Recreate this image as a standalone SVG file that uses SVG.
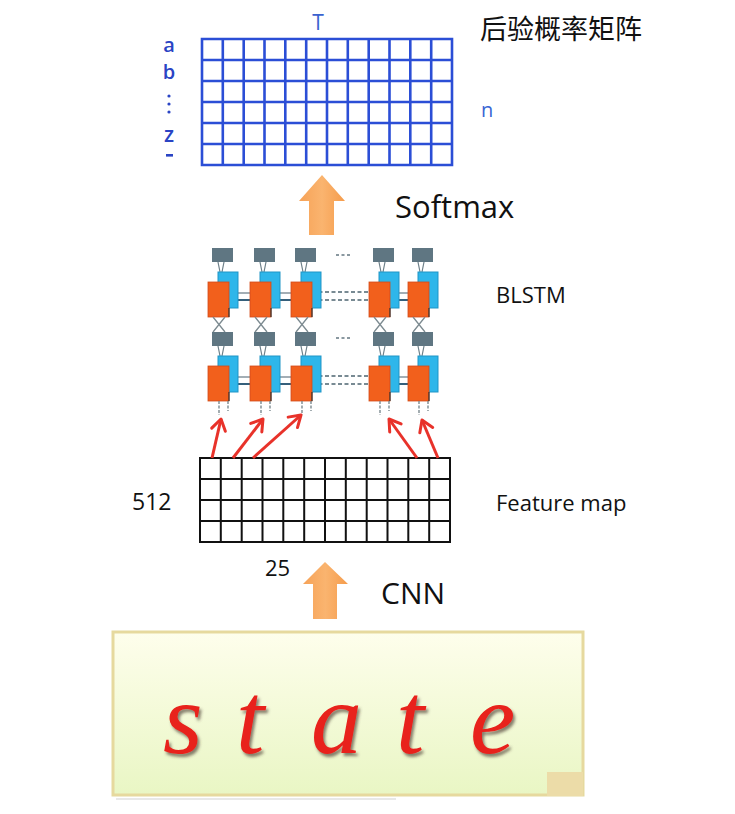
<svg xmlns="http://www.w3.org/2000/svg" width="735" height="814" viewBox="0 0 735 814">
  <style>
    .lbl { font-family: "Open Sans", "Liberation Sans", sans-serif; fill: #111; }
    .blue { font-family: "Open Sans", "Liberation Sans", sans-serif; fill: #2a44c4; }
    .row { font-weight: 600; }
    .cjk { font-family: "Noto Sans CJK SC", "Noto Sans", sans-serif; fill: #111; }
    .gridB { fill: #fff; stroke: #2b4ed6; stroke-width: 2.6; }
    .gridK { fill: #fff; stroke: #111; stroke-width: 2; }
    .link { stroke: #e8322a; stroke-width: 3; fill: none; marker-end: url(#vhead); }
    .state { font-family: "Liberation Serif", "DejaVu Serif", serif; font-style: italic; fill: #e8201a; }
  </style>
  <defs>
    <marker id="vhead" markerUnits="userSpaceOnUse" viewBox="-14 -9 16 18" refX="0" refY="0" markerWidth="16" markerHeight="18" orient="auto">
      <path d="M-11,-7 L0,0 L-11,7" fill="none" stroke="#e8322a" stroke-width="3" stroke-linecap="round" stroke-linejoin="round"/>
    </marker>
    <linearGradient id="upArrow" x1="0" y1="0" x2="1" y2="0">
      <stop offset="0" stop-color="#f6a257"/>
      <stop offset="0.5" stop-color="#fab46f"/>
      <stop offset="1" stop-color="#f59c4c"/>
    </linearGradient>
    <linearGradient id="boxFill" x1="0" y1="0" x2="0" y2="1">
      <stop offset="0" stop-color="#fefeec"/>
      <stop offset="1" stop-color="#e9f6c4"/>
    </linearGradient>
    <filter id="soft" x="-5%" y="-5%" width="110%" height="110%">
      <feGaussianBlur stdDeviation="0.6"/>
    </filter>
    <filter id="letterShadow" x="-20%" y="-20%" width="140%" height="140%">
      <feDropShadow dx="2" dy="3" stdDeviation="1.6" flood-color="#4a3a30" flood-opacity="0.65"/>
    </filter>
    <!-- one BLSTM cell: output unit, backward (blue) and forward (orange) blocks -->
    <g id="cell">
      <rect x="0" y="0" width="21" height="14" fill="#5f7682"/>
      <path d="M6,14 L8,24 M12,14 L10,24" stroke="#6d7f88" stroke-width="1.2" fill="none"/>
      <rect x="6" y="24" width="20" height="36" fill="#2db6ea" stroke="#1f95c6" stroke-width="1"/>
      <rect x="-4" y="34" width="21" height="35" fill="#f2601f" stroke="#d24c14" stroke-width="0.8"/>
      <path d="M17,60 L17,69" stroke="#333" stroke-width="1.2"/>
    </g>
    <!-- links between two layers of cells -->
    <g id="cross">
      <path d="M1,69 L13,84 M13,69 L1,84" stroke="#7c8a90" stroke-width="1.3" fill="none"/>
    </g>
    <g id="stub">
      <path d="M7,69 L7,83 M16,69 L16,79" stroke="#7c8a90" stroke-width="1.4" stroke-dasharray="3 1.5" fill="none"/>
    </g>
    <!-- recurrent links to the neighbouring column -->
    <g id="hlink">
      <path d="M26,45 L38,45" stroke="#7b8c95" stroke-width="1.4"/>
      <path d="M17,52 L38,52" stroke="#1f4f6c" stroke-width="1.8"/>
    </g>
  </defs>

  <rect width="735" height="814" fill="#fff"/>

  <!-- posterior probability matrix -->
  <g id="matrix">
    <path class="gridB" d="M202,39 H452 V165 H202 Z M222.8,39 V165 M243.7,39 V165 M264.5,39 V165 M285.3,39 V165 M306.2,39 V165 M327,39 V165 M347.8,39 V165 M368.7,39 V165 M389.5,39 V165 M410.3,39 V165 M431.2,39 V165 M202,60 H452 M202,81 H452 M202,102 H452 M202,123 H452 M202,144 H452"/>
    <text class="blue" x="318" y="30" font-size="21" text-anchor="middle" style="fill:#3a62cf">T</text>
    <text class="blue row" x="169" y="52" font-size="20" text-anchor="middle">a</text>
    <text class="blue row" x="169" y="79" font-size="20" text-anchor="middle">b</text>
    <g fill="#2a44c4">
      <circle cx="169" cy="96" r="1.6"/>
      <circle cx="169" cy="104" r="1.6"/>
      <circle cx="169" cy="112" r="1.6"/>
    </g>
    <text class="blue row" x="169" y="142" font-size="21" text-anchor="middle">z</text>
    <rect x="166" y="154" width="7" height="2.6" fill="#2a44c4"/>
    <text class="blue" x="481" y="117" font-size="20" style="fill:#3a66d4">n</text>
    <text class="cjk" x="480" y="39" font-size="27">后验概率矩阵</text>
  </g>

  <!-- Softmax step -->
  <g id="softmax">
    <path d="M322,175 L345,201 L334,201 L334,235 L309,235 L309,201 L299,201 Z" fill="url(#upArrow)"/>
    <text class="lbl" x="395" y="218" font-size="31">Softmax</text>
  </g>

  <!-- bidirectional LSTM layers -->
  <g id="blstm">
    <g id="blstm-top" filter="url(#soft)">
      <use href="#hlink" x="212" y="248"/>
      <use href="#hlink" x="254" y="248"/>
      <use href="#hlink" x="373" y="248"/>
      <path d="M312,292 H369 M312,300 H369" stroke="#4d6370" stroke-width="1.6" stroke-dasharray="4 2.5"/>
      <path d="M336,255 H352" stroke="#8a98a0" stroke-width="2" stroke-dasharray="3 2.5"/>
      <use href="#cell" x="212" y="248"/>
      <use href="#cell" x="254" y="248"/>
      <use href="#cell" x="295" y="248"/>
      <use href="#cell" x="373" y="248"/>
      <use href="#cell" x="412" y="248"/>
      <use href="#cross" x="212" y="248"/>
      <use href="#cross" x="254" y="248"/>
      <use href="#cross" x="295" y="248"/>
      <use href="#cross" x="373" y="248"/>
      <use href="#cross" x="412" y="248"/>
    </g>
    <g id="blstm-bottom" filter="url(#soft)">
      <use href="#hlink" x="212" y="332"/>
      <use href="#hlink" x="254" y="332"/>
      <use href="#hlink" x="373" y="332"/>
      <path d="M312,376 H369 M312,384 H369" stroke="#4d6370" stroke-width="1.6" stroke-dasharray="4 2.5"/>
      <path d="M336,338 H352" stroke="#8a98a0" stroke-width="2" stroke-dasharray="3 2.5"/>
      <use href="#cell" x="212" y="332"/>
      <use href="#cell" x="254" y="332"/>
      <use href="#cell" x="295" y="332"/>
      <use href="#cell" x="373" y="332"/>
      <use href="#cell" x="412" y="332"/>
      <use href="#stub" x="212" y="332"/>
      <use href="#stub" x="254" y="332"/>
      <use href="#stub" x="295" y="332"/>
      <use href="#stub" x="373" y="332"/>
      <use href="#stub" x="412" y="332"/>
    </g>
    <text class="lbl" x="496" y="303" font-size="22">BLSTM</text>
  </g>

  <!-- feature map -->
  <g id="featuremap">
    <path class="gridK" d="M200,458 H450 V542 H200 Z M220.8,458 V542 M241.7,458 V542 M262.5,458 V542 M283.3,458 V542 M304.2,458 V542 M325,458 V542 M345.8,458 V542 M366.7,458 V542 M387.5,458 V542 M408.3,458 V542 M429.2,458 V542 M200,479 H450 M200,500 H450 M200,521 H450"/>
    <text class="lbl" x="132" y="510" font-size="23">512</text>
    <text class="lbl" x="265" y="576" font-size="22">25</text>
    <text class="lbl" x="496" y="511" font-size="22">Feature map</text>
  </g>

  <!-- connectors from feature map columns into the first LSTM layer -->
  <g id="connectors">
    <path class="link" d="M212,458 L221,419"/>
    <path class="link" d="M233,458 L263,419"/>
    <path class="link" d="M253,458 L301,415"/>
    <path class="link" d="M417,458 L389,419"/>
    <path class="link" d="M438,458 L422,420"/>
  </g>

  <!-- CNN step -->
  <g id="cnn">
    <path d="M325,562 L348,584 L337,584 L337,619 L313,619 L313,584 L303,584 Z" fill="url(#upArrow)"/>
    <text class="lbl" x="381" y="604" font-size="30">CNN</text>
  </g>

  <!-- input word image -->
  <g id="input">
    <rect x="116" y="798" width="280" height="2" fill="#d8d8d8" opacity="0.6"/>
    <rect x="113" y="632" width="470" height="163" fill="url(#boxFill)" stroke="#e6d99e" stroke-width="3"/>
    <rect x="547" y="772" width="36" height="24" fill="#ecdca8"/>
    <text class="state" font-size="102" filter="url(#letterShadow)" x="163 236 311 396 470" y="753">state</text>
  </g>
</svg>
